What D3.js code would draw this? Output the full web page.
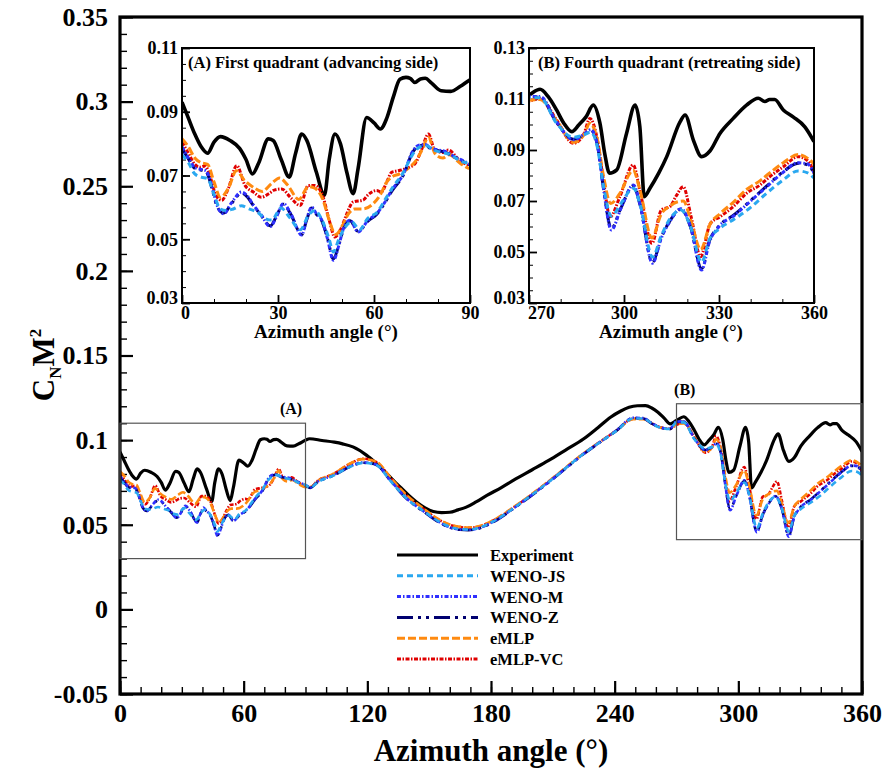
<!DOCTYPE html>
<html>
<head>
<meta charset="utf-8">
<script src="https://cdn.jsdelivr.net/npm/d3@7"></script>
<style>
  body { margin: 0; background: #fff; }
  svg text { font-family: "Liberation Serif", "Times New Roman", serif; font-weight: bold; }
</style>
</head>
<body>
<div id="chart"></div>
<script>
// Data: [azimuth angle (deg), CN*M^2]
var experiment = [[0,0.093],[2,0.088],[4,0.083],[6,0.079],[8,0.077],[10,0.0805],[12,0.0822],[15,0.081],[18,0.0785],[20,0.075],[22,0.0705],[24,0.074],[27,0.0815],[28.5,0.081],[31,0.075],[33.5,0.0695],[35.5,0.077],[37.4,0.083],[39,0.081],[42,0.071],[44.5,0.0638],[46,0.075],[47.8,0.083],[49.5,0.080],[51.5,0.071],[53.5,0.0643],[55,0.072],[57.7,0.0882],[60,0.0865],[62,0.0846],[64,0.088],[66,0.0945],[68.1,0.1002],[70,0.1008],[71.3,0.1005],[72.8,0.0992],[74.5,0.1003],[76,0.1005],[78,0.099],[81,0.0966],[84,0.0964],[87,0.098],[90,0.1],[92,0.1008],[98,0.0998],[104,0.0988],[108,0.0978],[113,0.096],[119.7,0.091],[124,0.0865],[128,0.082],[132,0.077],[136,0.0722],[140,0.0675],[144,0.0633],[148,0.060],[152,0.0578],[156,0.0572],[160,0.0574],[164,0.0588],[168,0.0604],[173,0.0637],[178,0.0673],[185,0.072],[192,0.0771],[200,0.0825],[208,0.088],[216,0.094],[225,0.1008],[232,0.1075],[238,0.1135],[243,0.1172],[247,0.1194],[251,0.1203],[255,0.1204],[258,0.119],[261,0.1165],[264,0.113],[267,0.1096],[270,0.1116],[273.5,0.1138],[276,0.111],[278.7,0.1057],[281,0.1005],[283.5,0.0972],[285.7,0.0998],[288,0.103],[290.3,0.1076],[292.4,0.1005],[294,0.088],[295.4,0.0809],[297.7,0.0822],[300.8,0.0965],[303.5,0.1076],[305,0.0991],[306.4,0.0717],[308.2,0.075],[311,0.081],[313.5,0.0874],[317.7,0.101],[319.3,0.1037],[321.9,0.0939],[324.5,0.0874],[327.2,0.0897],[330.3,0.0965],[334.5,0.1024],[338.7,0.1076],[342.4,0.1103],[344.5,0.109],[346,0.1098],[347.6,0.1098],[350.3,0.1057],[353.4,0.103],[357.1,0.0991],[360,0.0933]];

var wenoJS = [[0,0.0765],[2,0.074],[4,0.0705],[6,0.0695],[8,0.069],[10,0.064],[12,0.0595],[14,0.059],[16,0.0595],[18.5,0.0605],[21,0.0595],[23.5,0.0585],[26,0.0565],[28,0.056],[31,0.0598],[33.5,0.057],[37,0.053],[39.5,0.0575],[41.5,0.059],[44,0.0555],[46,0.050],[47.3,0.046],[49,0.050],[51,0.0538],[53,0.0555],[55.5,0.053],[58,0.0565],[61,0.0585],[63.5,0.0625],[66,0.0665],[69.2,0.071],[72,0.0765],[74.5,0.079],[76.5,0.0793],[78.5,0.078],[81,0.0773],[84,0.0765],[87,0.0745],[90,0.0735],[92.2,0.0718],[96,0.0752],[103.5,0.079],[111.6,0.0842],[118,0.0866],[124.5,0.0852],[131,0.0762],[139.1,0.0655],[147.2,0.0582],[155.3,0.0515],[160,0.0488],[165,0.0474],[169,0.0472],[173,0.0478],[181.1,0.052],[192.4,0.0611],[208.6,0.0759],[224.8,0.0918],[240.9,0.1055],[249,0.1128],[253.9,0.1128],[258,0.1098],[262,0.1074],[266.8,0.1066],[270,0.1105],[273.5,0.1105],[278.7,0.1005],[284,0.095],[287.4,0.096],[289.5,0.097],[291.6,0.091],[293.5,0.076],[296,0.064],[299,0.069],[303,0.075],[305,0.069],[309,0.048],[311.8,0.0565],[314.5,0.063],[318,0.0665],[321,0.060],[324.5,0.046],[327,0.055],[330,0.059],[335,0.063],[340,0.0675],[345,0.073],[350,0.078],[355,0.0818],[358,0.081],[360,0.079]];

var wenoM = [[0,0.079],[2,0.0755],[4,0.0725],[5.6,0.072],[7.5,0.0715],[9.5,0.066],[11,0.0605],[13,0.058],[15.5,0.0615],[18.6,0.0648],[20.5,0.0635],[22,0.0612],[24.5,0.058],[27.6,0.054],[29.5,0.057],[31.7,0.0612],[34,0.058],[37.4,0.0513],[39,0.0565],[40.5,0.0601],[42,0.058],[43.7,0.056],[45.5,0.05],[47.3,0.0434],[49,0.048],[50.5,0.0535],[52.5,0.056],[55,0.0523],[58.2,0.056],[60.8,0.058],[63,0.061],[65.5,0.0653],[69.2,0.0705],[72.2,0.0778],[74,0.0795],[76,0.0797],[78,0.0785],[80.2,0.078],[82.5,0.0775],[85,0.076],[87.5,0.0748],[90,0.0735],[92.2,0.072],[96,0.0755],[103.5,0.0792],[111.6,0.0845],[118,0.0868],[124.5,0.0855],[131,0.0765],[139.1,0.0655],[147.2,0.058],[155.3,0.0512],[160,0.0485],[165,0.0472],[169,0.047],[173,0.0476],[181.1,0.0518],[192.4,0.061],[208.6,0.0758],[224.8,0.0918],[240.9,0.1058],[249,0.1132],[253.9,0.113],[258,0.110],[262,0.1076],[266.8,0.1067],[270,0.111],[273.5,0.111],[278.7,0.101],[284,0.094],[287.4,0.0962],[289.5,0.098],[291.6,0.092],[293.5,0.075],[296,0.0586],[299,0.067],[303,0.0763],[305,0.069],[309,0.0456],[311.8,0.0555],[314.5,0.062],[318,0.067],[321,0.060],[324.5,0.0429],[327,0.054],[330,0.060],[335,0.0645],[340,0.070],[345,0.0755],[350,0.081],[355,0.085],[358,0.0845],[360,0.081]];

var wenoZ = [[0,0.0785],[2,0.0752],[4,0.0722],[5.6,0.0718],[7.5,0.0712],[9.5,0.0655],[11,0.0602],[13,0.0582],[15.5,0.0612],[18.6,0.0645],[20.5,0.0632],[22,0.061],[24.5,0.0578],[27.6,0.0542],[29.5,0.0572],[31.7,0.061],[34,0.0578],[37.4,0.0515],[39,0.0562],[40.5,0.0598],[42,0.0578],[43.7,0.0558],[45.5,0.0502],[47.3,0.0438],[49,0.0482],[50.5,0.0532],[52.5,0.0558],[55,0.0525],[58.2,0.0558],[60.8,0.0578],[63,0.0608],[65.5,0.065],[69.2,0.0702],[72.2,0.0775],[74,0.0792],[76,0.0795],[78,0.0782],[80.2,0.0778],[82.5,0.0772],[85,0.0758],[87.5,0.0746],[90,0.0733],[92.2,0.0718],[96,0.0753],[103.5,0.079],[111.6,0.0843],[118,0.0866],[124.5,0.0853],[131,0.0763],[139.1,0.0653],[147.2,0.0578],[155.3,0.051],[160,0.0483],[165,0.047],[169,0.0468],[173,0.0474],[181.1,0.0516],[192.4,0.0608],[208.6,0.0756],[224.8,0.0916],[240.9,0.1056],[249,0.113],[253.9,0.1128],[258,0.1098],[262,0.1074],[266.8,0.1065],[270,0.1108],[273.5,0.1108],[278.7,0.1008],[284,0.0942],[287.4,0.096],[289.5,0.0978],[291.6,0.0918],[293.5,0.0752],[296,0.0592],[299,0.0672],[303,0.076],[305,0.0688],[309,0.046],[311.8,0.0558],[314.5,0.0622],[318,0.0668],[321,0.0598],[324.5,0.0435],[327,0.0545],[330,0.0602],[335,0.0648],[340,0.0702],[345,0.0758],[350,0.0812],[355,0.0848],[358,0.0842],[360,0.0808]];

var eMLP = [[0,0.0815],[2,0.079],[4,0.0755],[6,0.074],[8,0.0735],[10,0.068],[12,0.0632],[14.5,0.066],[17,0.0715],[19.5,0.0685],[22,0.0665],[25,0.065],[28,0.0675],[30.5,0.0692],[33,0.067],[36.5,0.0625],[39.5,0.0665],[41.5,0.066],[44,0.0625],[46,0.056],[48,0.0515],[50,0.054],[52,0.058],[54,0.0595],[56.5,0.0595],[59.8,0.0612],[62,0.064],[64,0.068],[65.5,0.0695],[68,0.0705],[71,0.0725],[73,0.0745],[75,0.078],[77,0.082],[79,0.077],[81.5,0.0755],[83.5,0.0765],[87,0.0738],[90,0.0722],[92.2,0.0722],[96,0.076],[103.5,0.080],[111.6,0.0862],[118,0.0888],[124.5,0.0872],[131,0.0782],[139.1,0.0675],[147.2,0.0596],[155.3,0.0527],[160,0.0502],[165,0.0488],[169,0.0484],[173,0.0488],[181.1,0.0527],[192.4,0.0616],[208.6,0.0763],[224.8,0.0921],[240.9,0.1057],[249,0.1124],[253.9,0.1124],[258,0.1098],[262,0.1074],[266.8,0.1066],[270,0.1095],[273.5,0.1098],[278.7,0.1015],[284,0.093],[287.4,0.096],[289.2,0.1005],[291.6,0.094],[293.5,0.080],[295.8,0.069],[298.7,0.073],[302.9,0.082],[305,0.0745],[308.8,0.0555],[311.8,0.065],[314.5,0.068],[316.5,0.0695],[318.7,0.070],[321.2,0.062],[324.2,0.051],[327.2,0.061],[330.3,0.065],[334.5,0.0695],[338.7,0.0745],[343,0.078],[346,0.081],[350.3,0.085],[355,0.0882],[358.3,0.0865],[360,0.0845]];

var eMLPVC = [[0,0.0804],[2,0.077],[4,0.0735],[5.6,0.0726],[7.2,0.073],[9,0.069],[10.5,0.064],[12.4,0.0622],[14.5,0.066],[17.1,0.0731],[19.7,0.0669],[22.3,0.0648],[24.8,0.0632],[27.4,0.0645],[29,0.0655],[31.1,0.0658],[34,0.063],[36.9,0.0606],[39.5,0.0669],[41.5,0.0669],[44.1,0.0632],[46,0.056],[47.8,0.0507],[49.9,0.0538],[51.5,0.058],[53.5,0.0617],[56.6,0.0623],[58.2,0.064],[60.8,0.0653],[62.3,0.0648],[64,0.068],[65.5,0.071],[67.6,0.0715],[70,0.0722],[72.8,0.0737],[74.9,0.0782],[77,0.083],[79,0.078],[81.6,0.0772],[83.2,0.078],[86.8,0.0747],[90,0.073],[92.2,0.0722],[96,0.0761],[103.5,0.080],[111.6,0.086],[118,0.089],[124.5,0.087],[131,0.078],[139.1,0.0673],[147.2,0.0594],[155.3,0.0525],[160,0.050],[165,0.0486],[169,0.0482],[173,0.0486],[181.1,0.0525],[192.4,0.0614],[208.6,0.0761],[224.8,0.0919],[240.9,0.1057],[249,0.1126],[253.9,0.1126],[258,0.110],[262,0.1076],[266.8,0.1067],[270,0.109],[273.5,0.1103],[278.7,0.1018],[284,0.0926],[287.4,0.0965],[289.2,0.1024],[291.6,0.094],[293.5,0.078],[295.6,0.0638],[298.7,0.0717],[302.9,0.0841],[305,0.0743],[308.8,0.0534],[311.8,0.0665],[314.5,0.0678],[316.5,0.072],[318.7,0.0756],[321.2,0.0638],[324.2,0.0482],[327.2,0.061],[330.3,0.0638],[334.5,0.0678],[338.7,0.073],[343,0.0763],[346,0.0795],[350.3,0.0834],[355,0.0874],[358.3,0.0855],[360,0.0809]];

var seriesNames = ["Experiment", "WENO-JS", "WENO-M", "WENO-Z", "eMLP", "eMLP-VC"];
var seriesData = [experiment, wenoJS, wenoM, wenoZ, eMLP, eMLPVC];
var seriesColors = ["#000000", "#2aa8f0", "#2f2fff", "#000070", "#ff8a10", "#e00000"];
var seriesDash = [null, "6,4", "4,2,1.5,2", "16,5,3,5,3,5", "8,3", "4,1.5,1.5,1.5"];

var mainXTicks = [0, 60, 120, 180, 240, 300, 360];
var mainYTicks = [-0.05, 0, 0.05, 0.1, 0.15, 0.2, 0.25, 0.3, 0.35];
var insetATicksX = [0, 30, 60, 90];
var insetATicksY = [0.03, 0.05, 0.07, 0.09, 0.11];
var insetBTicksX = [270, 300, 330, 360];
var insetBTicksY = [0.03, 0.05, 0.07, 0.09, 0.11, 0.13];

var W = 882, H = 768;
var svg = d3.select("#chart").append("svg")
        .attr("width", W)
        .attr("height", H);

// Draws one panel (axes, frame, curves). Returns the scales.
var drawPanel = function(p) {
    var x = d3.scaleLinear().domain(p.xDomain).range([p.left, p.right]);
    var y = d3.scaleLinear().domain(p.yDomain).range([p.bottom, p.top]);
    var g = svg.append("g");

    g.append("rect")
        .attr("x", p.left).attr("y", p.top)
        .attr("width", p.right - p.left).attr("height", p.bottom - p.top)
        .style("fill", "#fff");

    var clipId = "clip-" + p.id;
    g.append("clipPath").attr("id", clipId)
        .append("rect")
        .attr("x", p.left).attr("y", p.top)
        .attr("width", p.right - p.left).attr("height", p.bottom - p.top);

    // minor ticks
    var xMinor = d3.range(p.xDomain[0], p.xDomain[1] + 0.001, p.xMinor);
    var yMinor = d3.range(p.yDomain[0], p.yDomain[1] + 1e-9, p.yMinor);
    g.append("g").attr("transform", "translate(0," + p.bottom + ")")
        .call(d3.axisBottom(x).tickValues(xMinor).tickSize(-p.minorLen).tickFormat(""))
        .call(function(s) { s.select(".domain").remove(); })
        .selectAll("line").style("stroke", "#000").style("stroke-width", p.tickW);
    g.append("g").attr("transform", "translate(" + p.left + ",0)")
        .call(d3.axisLeft(y).tickValues(yMinor).tickSize(-p.minorLen).tickFormat(""))
        .call(function(s) { s.select(".domain").remove(); })
        .selectAll("line").style("stroke", "#000").style("stroke-width", p.tickW);

    // major ticks with labels
    var xAx = g.append("g").attr("transform", "translate(0," + p.bottom + ")")
        .call(d3.axisBottom(x).tickValues(p.xTicks).tickSize(-p.majorLen).tickPadding(p.xPad).tickFormat(d3.format("d")));
    var yAx = g.append("g").attr("transform", "translate(" + p.left + ",0)")
        .call(d3.axisLeft(y).tickValues(p.yTicks).tickSize(-p.majorLen).tickPadding(p.yPad).tickFormat(p.yFormat));
    [xAx, yAx].forEach(function(a) {
        a.select(".domain").remove();
        a.selectAll("line").style("stroke", "#000").style("stroke-width", p.tickW + 0.8);
        a.selectAll("text").style("font-size", p.tickFont + "px").style("fill", "#000")
            .style("font-family", "'Liberation Serif', serif").style("font-weight", "bold");
    });
    // corner labels of insets sit a little apart, as in the original
    if (p.corner) {
        yAx.selectAll("text").filter(function(d) { return d === p.yDomain[0]; })
            .attr("dy", "0.05em");
        xAx.selectAll("text").filter(function(d) { return d === p.xDomain[0]; })
            .attr("x", p.corner);
    }

    // curves
    var line = d3.line()
        .x(function(d) { return x(d[0]); })
        .y(function(d) { return y(d[1]); })
        .curve(d3.curveMonotoneX);
    var curves = g.append("g").attr("clip-path", "url(#" + clipId + ")");
    var order = [0, 5, 4, 3, 2, 1];
    for (var i = order.length - 1; i >= 0; i--) {
        var k = order[order.length - 1 - i];
        var data = seriesData[k].filter(function(d) {
            return d[0] >= p.xDomain[0] - 5 && d[0] <= p.xDomain[1] + 5;
        });
        curves.append("path")
            .datum(data)
            .attr("d", line)
            .style("fill", "none")
            .style("stroke", seriesColors[k])
            .style("stroke-width", k === 0 ? p.expW : p.lineW)
            .style("stroke-linejoin", "round")
            .style("stroke-dasharray", seriesDash[k]);
    }

    g.append("rect")
        .attr("x", p.left).attr("y", p.top)
        .attr("width", p.right - p.left).attr("height", p.bottom - p.top)
        .style("fill", "none").style("stroke", "#000").style("stroke-width", p.frameW);

    return { x: x, y: y, g: g };
};

// Main chart
var main = drawPanel({
    id: "main", left: 120, right: 862, top: 17, bottom: 694,
    xDomain: [0, 360], yDomain: [-0.05, 0.35],
    xTicks: mainXTicks, yTicks: mainYTicks, xMinor: 10, yMinor: 0.01,
    majorLen: 13, minorLen: 7, tickW: 1.4, frameW: 3.2,
    xPad: 10, yPad: 12, tickFont: 26,
    yFormat: function(d) { return String(+d.toFixed(2)); },
    lineW: 2.6, expW: 3.2
});

// Zoom boxes in main chart
svg.append("rect")
    .attr("x", main.x(0)).attr("y", main.y(0.11))
    .attr("width", main.x(90) - main.x(0)).attr("height", main.y(0.03) - main.y(0.11))
    .style("fill", "none").style("stroke", "#555").style("stroke-width", 1.2);
svg.append("rect")
    .attr("x", main.x(270)).attr("y", main.y(0.1215))
    .attr("width", main.x(360) - main.x(270)).attr("height", main.y(0.0412) - main.y(0.1215))
    .style("fill", "none").style("stroke", "#555").style("stroke-width", 1.2);
svg.append("text").attr("x", main.x(83)).attr("y", main.y(0.1135) - 3)
    .attr("text-anchor", "middle").style("font-size", "16px").text("(A)");
svg.append("text").attr("x", main.x(274)).attr("y", main.y(0.1245) - 4)
    .attr("text-anchor", "middle").style("font-size", "16px").text("(B)");

// Insets
var insetA = drawPanel({
    id: "a", left: 182, right: 470, top: 48, bottom: 303,
    xDomain: [0, 90], yDomain: [0.03, 0.11],
    xTicks: insetATicksX, yTicks: insetATicksY, xMinor: 10, yMinor: 0.005,
    majorLen: 8, minorLen: 4, tickW: 1, frameW: 2,
    xPad: 3, yPad: 4, tickFont: 18, yFormat: d3.format(".2f"),
    lineW: 3, expW: 3.6, corner: 3
});
var insetB = drawPanel({
    id: "b", left: 529, right: 814, top: 48, bottom: 303,
    xDomain: [270, 360], yDomain: [0.03, 0.13],
    xTicks: insetBTicksX, yTicks: insetBTicksY, xMinor: 10, yMinor: 0.005,
    majorLen: 8, minorLen: 4, tickW: 1, frameW: 2,
    xPad: 3, yPad: 4, tickFont: 18, yFormat: d3.format(".2f"),
    lineW: 3, expW: 3.6, corner: 12
});

svg.append("text").attr("x", 188).attr("y", 68)
    .style("font-size", "16.5px").text("(A) First quadrant (advancing side)");
svg.append("text").attr("x", 538).attr("y", 68)
    .style("font-size", "16.5px").text("(B) Fourth quadrant (retreating side)");
svg.append("text").attr("x", 326).attr("y", 338).attr("text-anchor", "middle")
    .style("font-size", "19px").text("Azimuth angle (°)");
svg.append("text").attr("x", 671).attr("y", 338).attr("text-anchor", "middle")
    .style("font-size", "19px").text("Azimuth angle (°)");

// Axis titles
svg.append("text").attr("x", 491).attr("y", 761).attr("text-anchor", "middle")
    .style("font-size", "31px").text("Azimuth angle (°)");
var yt = svg.append("text")
    .attr("transform", "translate(54,365) rotate(-90)")
    .attr("text-anchor", "middle")
    .style("font-size", "31px");
yt.append("tspan").text("C");
yt.append("tspan").attr("dy", 7).style("font-size", "17px").text("N");
yt.append("tspan").attr("dy", -7).text("M");
yt.append("tspan").attr("dy", -13).style("font-size", "17px").text("2");

// Legend
var legend = svg.append("g").attr("transform", "translate(397,555)");
seriesNames.forEach(function(name, i) {
    var row = legend.append("g").attr("transform", "translate(0," + (i * 20.8) + ")");
    row.append("line")
        .attr("x1", 0).attr("x2", 81).attr("y1", 0).attr("y2", 0)
        .style("stroke", seriesColors[i])
        .style("stroke-width", i === 0 ? 3.2 : 3)
        .style("stroke-dasharray", seriesDash[i]);
    row.append("text").attr("x", 93).attr("y", 6)
        .style("font-size", "16.5px").text(name);
});
</script>
</body>
</html>
